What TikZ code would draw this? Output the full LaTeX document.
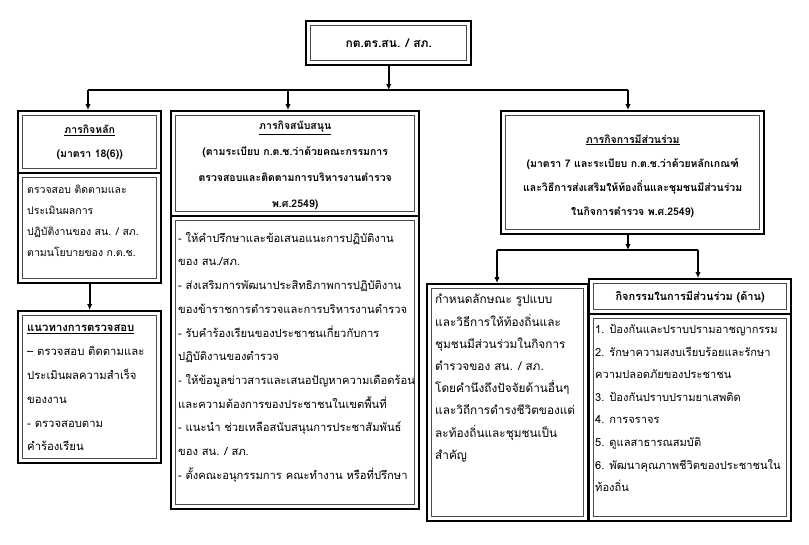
\documentclass[tikz,border=0pt]{standalone}
\usepackage{fontspec}
\newfontfamily\thaifont[Script=Thai]{Loma}
\usetikzlibrary{arrows.meta}
\tikzset{
  dbox/.style={draw=black, line width=2.4pt, fill=white, inner sep=0pt, anchor=north west,
    path picture={\draw[black!70,line width=0.9pt]
      ([shift={(4.5pt,4.5pt)}]path picture bounding box.south west) rectangle
      ([shift={(-4.5pt,-4.5pt)}]path picture bounding box.north east);}},
  htxt/.style={align=center, inner sep=0pt, font=\thaifont\bfseries\fontsize{10.5}{24}\selectfont},
  btxt/.style={align=left, inner sep=0pt, anchor=north west, font=\thaifont\fontsize{10.5}{23}\selectfont},
  conn/.style={line width=1.6pt, draw=black},
  arr/.style={conn, -{Latex[length=6pt,width=5.5pt]}},
}
\begin{document}
\begin{tikzpicture}[x=1pt,y=-1pt]
\useasboundingbox (0,0) rectangle (809,544);
% boxes
\node[dbox, minimum width=165pt, minimum height=44pt] (top) at (305,20) {};
\node[htxt, font=\thaifont\bfseries\fontsize{12}{14}\selectfont] (topt) at (top.center) {กต.ตร.สน. / สภ.};

\node[dbox, minimum width=143pt, minimum height=62pt] (h1) at (17,110) {};
\node[htxt] (h1t) at (h1.center) {\underline{ภารกิจหลัก}\\(มาตรา 18(6))};
\node[dbox, minimum width=143pt, minimum height=110pt] (b1) at (17,172) {};
\node[btxt, font=\thaifont\fontsize{10.5}{21}\selectfont] (b1t) at ([shift={(10pt,-13pt)}]b1.north west) {ตรวจสอบ ติดตามและ\\ประเมินผลการ\\ปฏิบัติงานของ สน. / สภ.\\ตามนโยบายของ ก.ต.ช.};
\node[dbox, minimum width=143pt, minimum height=152pt] (g1) at (17,310) {};
\node[btxt, font=\thaifont\fontsize{11.3}{23.8}\selectfont] (g1t) at ([shift={(10pt,-15pt)}]g1.north west) {\textbf{\underline{แนวทางการตรวจสอบ}}\\– ตรวจสอบ ติดตามและ\\ประเมินผลความสำเร็จ\\ของงาน\\- ตรวจสอบตาม\\คำร้องเรียน};

\node[dbox, minimum width=248pt, minimum height=105pt] (h2) at (170,110) {};
\node[htxt, font=\thaifont\bfseries\fontsize{10.5}{26}\selectfont] (h2t) at ([yshift=-2pt]h2.center) {\underline{ภารกิจสนับสนุน}\\(ตามระเบียบ ก.ต.ช.ว่าด้วยคณะกรรมการ\\ตรวจสอบและติดตามการบริหารงานตำรวจ\\พ.ศ.2549)};
\node[dbox, minimum width=248pt, minimum height=293pt] (b2) at (170,215) {};
\node[btxt, font=\thaifont\fontsize{11.2}{23.7}\selectfont] (b2t) at ([shift={(8pt,-17pt)}]b2.north west) {- ให้คำปรึกษาและข้อเสนอแนะการปฏิบัติงาน\\ของ สน./สภ.\\- ส่งเสริมการพัฒนาประสิทธิภาพการปฏิบัติงาน\\ของข้าราชการตำรวจและการบริหารงานตำรวจ\\- รับคำร้องเรียนของประชาชนเกี่ยวกับการ\\ปฏิบัติงานของตำรวจ\\- ให้ข้อมูลข่าวสารและเสนอปัญหาความเดือดร้อน\\และความต้องการของประชาชนในเขตพื้นที่\\- แนะนำ ช่วยเหลือสนับสนุนการประชาสัมพันธ์\\ของ สน. / สภ.\\- ตั้งคณะอนุกรรมการ คณะทำงาน หรือที่ปรึกษา};

\node[dbox, minimum width=263pt, minimum height=123pt] (h3) at (500,110) {};
\node[htxt] (h3t) at ([yshift=-3pt]h3.center) {\underline{ภารกิจการมีส่วนร่วม}\\(มาตรา 7 และระเบียบ ก.ต.ช.ว่าด้วยหลักเกณฑ์\\และวิธีการส่งเสริมให้ท้องถิ่นและชุมชนมีส่วนร่วม\\ในกิจการตำรวจ พ.ศ.2549)};

\node[dbox, minimum width=161pt, minimum height=237pt] (b3) at (426,283) {};
\node[btxt, font=\thaifont\fontsize{11.8}{22.2}\selectfont] (b3t) at ([shift={(9pt,-11pt)}]b3.north west) {กำหนดลักษณะ รูปแบบ\\และวิธีการให้ท้องถิ่นและ\\ชุมชนมีส่วนร่วมในกิจการ\\ตำรวจของ สน. / สภ.\\โดยคำนึงถึงปัจจัยด้านอื่นๆ\\และวิถีการดำรงชีวิตของแต่\\ละท้องถิ่นและชุมชนเป็น\\สำคัญ};

\node[dbox, minimum width=202pt, minimum height=35pt] (h4) at (588,278) {};
\node[htxt, font=\thaifont\bfseries\fontsize{11}{13}\selectfont] (h4t) at (h4.center) {กิจกรรมในการมีส่วนร่วม (ด้าน)};
\node[dbox, minimum width=202pt, minimum height=207pt] (b4) at (588,313) {};
\node[btxt, font=\thaifont\fontsize{11.1}{22.6}\selectfont] (b4t) at ([shift={(7pt,-11pt)}]b4.north west) {1. ป้องกันและปราบปรามอาชญากรรม\\2. รักษาความสงบเรียบร้อยและรักษา\\ความปลอดภัยของประชาชน\\3. ป้องกันปราบปรามยาเสพติด\\4. การจราจร\\5. ดูแลสาธารณสมบัติ\\6. พัฒนาคุณภาพชีวิตของประชาชนใน\\ท้องถิ่น};

% connectors
\coordinate (busL) at (88,90);
\coordinate (busM) at (288,90);
\coordinate (busR) at (628,90);
\draw[arr] (top.south) -- (top.south |- busL);
\draw[conn] (busL) -- (busR);
\draw[arr] (busL) -- (busL |- h1.north);
\draw[arr] (busM) -- (busM |- h2.north);
\draw[arr] (busR) -- (busR |- h3.north);
\draw[arr] (b1.south) -- (g1.north);
\coordinate (sbL) at (497,250);
\coordinate (sbR) at (698,250);
\draw[arr] (busR |- h3.south) -- (busR |- sbL);
\draw[conn] (sbL) -- (sbR);
\draw[arr] (sbL) -- (sbL |- b3.north);
\draw[arr] (sbR) -- (sbR |- h4.north);
\end{tikzpicture}
\end{document}
